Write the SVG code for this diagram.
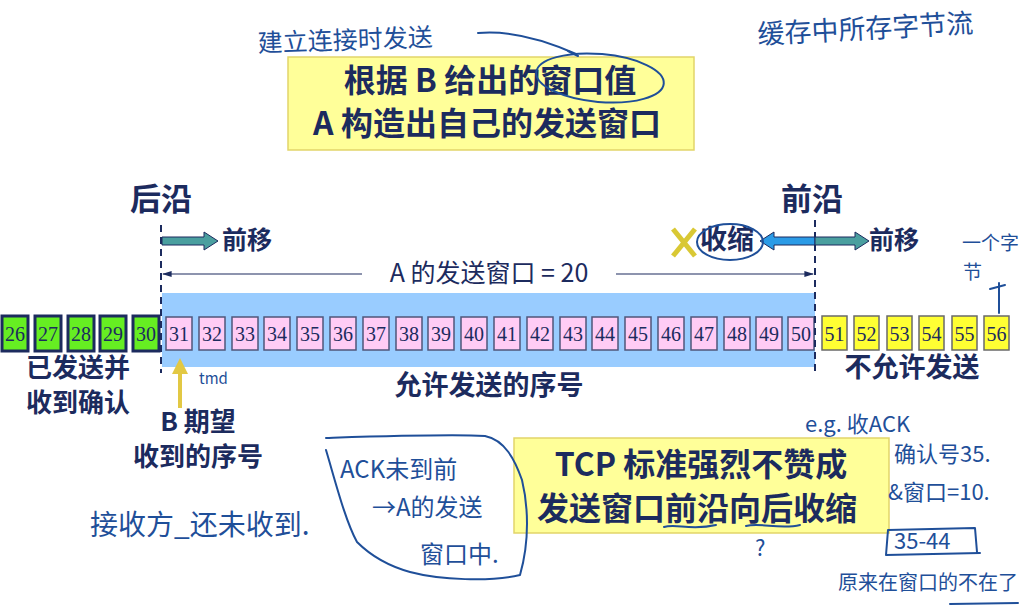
<svg xmlns="http://www.w3.org/2000/svg" width="1024" height="612" viewBox="0 0 1024 612">
  <style>
    .t { font-family: "Noto Sans CJK SC", "Liberation Sans", sans-serif; font-weight: 700; fill: #1c2b5e; }
    .plain { font-weight: 400; }
    .num { font-family: "Liberation Serif", serif; font-size: 20px; fill: #1c2b5e; text-anchor: middle; }
    .acked { fill: #66ee22; stroke: #1c2b5e; stroke-width: 3; }
    .win { fill: #ffccf5; stroke: #50567a; stroke-width: 1.5; }
    .out { fill: #ffff33; stroke: #6a6a6a; stroke-width: 1.5; }
    .note { fill: #ffff99; stroke: #e2d56a; stroke-width: 1.5; }
    .edge { stroke: #1c2b5e; stroke-width: 2; stroke-dasharray: 7 5; fill: none; }
    .hand { font-family: "Noto Sans CJK SC", sans-serif; font-weight: 400; fill: #1f4f99; }
    .ink { fill: none; stroke: #1f4f99; stroke-width: 2; stroke-linecap: round; stroke-linejoin: round; }
  </style>
  <defs>
    <marker id="thin" viewBox="0 0 10 10" refX="9" refY="5" markerWidth="8" markerHeight="8" orient="auto-start-reverse">
      <path d="M0,2 L10,5 L0,8 z" fill="#1c2b5e"/>
    </marker>
  </defs>
  <rect width="1024" height="612" fill="#ffffff"/>

  <!-- sending window band -->
  <rect id="window-band" x="162" y="293" width="653" height="74" fill="#99ccff"/>

  <!-- byte sequence -->
  <g id="acked-bytes">
    <rect class="acked" x="2" y="316" width="26" height="35"/><text class="num" x="15" y="341">26</text>
    <rect class="acked" x="35" y="316" width="26" height="35"/><text class="num" x="48" y="341">27</text>
    <rect class="acked" x="68" y="316" width="26" height="35"/><text class="num" x="81" y="341">28</text>
    <rect class="acked" x="100" y="316" width="26" height="35"/><text class="num" x="113" y="341">29</text>
    <rect class="acked" x="133" y="316" width="26" height="35"/><text class="num" x="146" y="341">30</text>
  </g>
  <g id="window-bytes">
    <rect class="win" x="166" y="317" width="26" height="33"/><text class="num" x="179" y="341">31</text>
    <rect class="win" x="199" y="317" width="26" height="33"/><text class="num" x="212" y="341">32</text>
    <rect class="win" x="232" y="317" width="26" height="33"/><text class="num" x="245" y="341">33</text>
    <rect class="win" x="264" y="317" width="26" height="33"/><text class="num" x="277" y="341">34</text>
    <rect class="win" x="297" y="317" width="26" height="33"/><text class="num" x="310" y="341">35</text>
    <rect class="win" x="330" y="317" width="26" height="33"/><text class="num" x="343" y="341">36</text>
    <rect class="win" x="363" y="317" width="26" height="33"/><text class="num" x="376" y="341">37</text>
    <rect class="win" x="396" y="317" width="26" height="33"/><text class="num" x="409" y="341">38</text>
    <rect class="win" x="428" y="317" width="26" height="33"/><text class="num" x="441" y="341">39</text>
    <rect class="win" x="461" y="317" width="26" height="33"/><text class="num" x="474" y="341">40</text>
    <rect class="win" x="494" y="317" width="26" height="33"/><text class="num" x="507" y="341">41</text>
    <rect class="win" x="527" y="317" width="26" height="33"/><text class="num" x="540" y="341">42</text>
    <rect class="win" x="560" y="317" width="26" height="33"/><text class="num" x="573" y="341">43</text>
    <rect class="win" x="592" y="317" width="26" height="33"/><text class="num" x="605" y="341">44</text>
    <rect class="win" x="625" y="317" width="26" height="33"/><text class="num" x="638" y="341">45</text>
    <rect class="win" x="658" y="317" width="26" height="33"/><text class="num" x="671" y="341">46</text>
    <rect class="win" x="691" y="317" width="26" height="33"/><text class="num" x="704" y="341">47</text>
    <rect class="win" x="724" y="317" width="26" height="33"/><text class="num" x="737" y="341">48</text>
    <rect class="win" x="756" y="317" width="26" height="33"/><text class="num" x="769" y="341">49</text>
    <rect class="win" x="788" y="317" width="26" height="33"/><text class="num" x="801" y="341">50</text>
  </g>
  <g id="blocked-bytes">
    <rect class="out" x="822" y="316" width="25" height="34"/><text class="num" x="834.5" y="341">51</text>
    <rect class="out" x="854" y="316" width="25" height="34"/><text class="num" x="866.5" y="341">52</text>
    <rect class="out" x="887" y="316" width="25" height="34"/><text class="num" x="899.5" y="341">53</text>
    <rect class="out" x="919" y="316" width="25" height="34"/><text class="num" x="931.5" y="341">54</text>
    <rect class="out" x="952" y="316" width="25" height="34"/><text class="num" x="964.5" y="341">55</text>
    <rect class="out" x="984" y="316" width="25" height="34"/><text class="num" x="996.5" y="341">56</text>
  </g>

  <!-- window edges -->
  <g id="edges">
    <line class="edge" x1="161" y1="225" x2="161" y2="373"/>
    <line class="edge" x1="815" y1="220" x2="815" y2="373"/>
    <text class="t" x="130" y="210" font-size="31">后沿</text>
    <text class="t" x="781" y="210" font-size="31">前沿</text>
  </g>

  <!-- connectors -->
  <g id="connectors">
    <!-- trailing edge moves forward -->
    <path d="M162,237 L204,237 L204,232 L218,241 L204,250 L204,245 L162,245 z" fill="#4a9f9f" stroke="#1c2b5e" stroke-width="1"/>
    <!-- leading edge: shrink (left) / move forward (right) -->
    <path d="M815,237 L774,237 L774,232 L760,241 L774,250 L774,245 L815,245 z" fill="#2b9be6" stroke="#1c2b5e" stroke-width="1"/>
    <path d="M815,237 L855,237 L855,232 L869,241 L855,250 L855,245 L815,245 z" fill="#4a9f9f" stroke="#1c2b5e" stroke-width="1"/>
    <!-- window size span -->
    <line x1="163" y1="274" x2="362" y2="274" stroke="#1c2b5e" stroke-width="1.2" marker-start="url(#thin)"/>
    <line x1="616" y1="274" x2="813" y2="274" stroke="#1c2b5e" stroke-width="1.2" marker-end="url(#thin)"/>
    <!-- B expects byte 31 -->
    <line x1="180" y1="408" x2="180" y2="372" stroke="#e2c844" stroke-width="4"/>
    <path d="M172,374 L180,358 L188,374 z" fill="#e2c844"/>
    <!-- not allowed mark -->
    <line x1="673" y1="229" x2="695" y2="256" stroke="#d9c834" stroke-width="5"/>
    <line x1="695" y1="229" x2="673" y2="256" stroke="#d9c834" stroke-width="5"/>
  </g>

  <!-- labels -->
  <g id="labels">
    <text class="t" x="222" y="249" font-size="25">前移</text>
    <text class="t" x="869" y="249" font-size="25">前移</text>
    <text class="t" x="700" y="249" font-size="27">收缩</text>
    <text class="t plain" x="489" y="282" font-size="25" text-anchor="middle">A 的发送窗口 = 20</text>
    <text class="t" x="78" y="377" font-size="26" text-anchor="middle">已发送并</text>
    <text class="t" x="78" y="412" font-size="26" text-anchor="middle">收到确认</text>
    <text class="t" x="489" y="395" font-size="27" text-anchor="middle">允许发送的序号</text>
    <text class="t" x="912" y="377" font-size="27" text-anchor="middle">不允许发送</text>
    <text class="t" x="198" y="431" font-size="26" text-anchor="middle">B 期望</text>
    <text class="t" x="198" y="466" font-size="26" text-anchor="middle">收到的序号</text>
  </g>

  <g id="note-window">
    <rect class="note" x="288" y="57" width="406" height="93"/>
    <text class="t" x="490" y="92" font-size="32" text-anchor="middle">根据 B 给出的窗口值</text>
    <text class="t" x="487" y="135" font-size="32" text-anchor="middle">A 构造出自己的发送窗口</text>
  </g>

  <g id="note-tcp">
    <rect class="note" x="514" y="438" width="375" height="95"/>
    <text class="t" x="701" y="476" font-size="32" text-anchor="middle">TCP 标准强烈不赞成</text>
    <text class="t" x="697" y="520" font-size="32" text-anchor="middle">发送窗口前沿向后收缩</text>
  </g>

  <!-- handwritten annotations -->
  <g id="annotations">
    <text class="hand" x="258" y="52" font-size="25" transform="rotate(-2 258 52)">建立连接时发送</text>
    <path class="ink" d="M478,33 C512,30 545,40 576,54"/>
    <path class="ink" d="M568,51 L578,56"/>
    <ellipse class="ink" cx="600" cy="78" rx="64" ry="24" transform="rotate(5 600 78)"/>
    <text class="hand" x="758" y="44" font-size="27" transform="rotate(-3 758 44)">缓存中所存字节流</text>
    <text class="hand" x="962" y="250" font-size="19">一个字</text>
    <text class="hand" x="963" y="279" font-size="19">节</text>
    <path class="ink" d="M999,313 L999,283 M990,289 L1005,285"/>
    <ellipse class="ink" cx="730" cy="242" rx="33" ry="18"/>
    <text class="hand" x="199" y="384" font-size="15">tmd</text>
    <text class="hand" x="90" y="535" font-size="28">接收方_还未收到.</text>
    <path class="ink" d="M326,438 C390,436 450,434 485,436 C505,440 515,460 522,480 C528,505 530,540 520,575 C490,582 440,580 410,572 C385,565 370,555 357,542 C345,520 335,480 326,450"/>
    <text class="hand" x="340" y="478" font-size="24">ACK未到前</text>
    <text class="hand" x="372" y="516" font-size="24">→A的发送</text>
    <text class="hand" x="420" y="563" font-size="24">窗口中.</text>
    <path class="ink" d="M664,527 C676,523 690,531 716,525 M746,526 C760,522 780,530 800,525"/>
    <text class="hand" x="755" y="556" font-size="22">?</text>
    <text class="hand" x="805" y="432" font-size="22">e.g. 收ACK</text>
    <text class="hand" x="894" y="462" font-size="22">确认号35.</text>
    <text class="hand" x="888" y="500" font-size="22">&amp;窗口=10.</text>
    <text class="hand" x="894" y="549" font-size="22">35-44</text>
    <path class="ink" d="M888,530 L886,555 L980,553 M888,530 L975,528 L977,552"/>
    <text class="hand" x="838" y="590" font-size="20">原来在窗口的不在了</text>
    <path class="ink" d="M950,604 L1018,603"/>
  </g>
</svg>
